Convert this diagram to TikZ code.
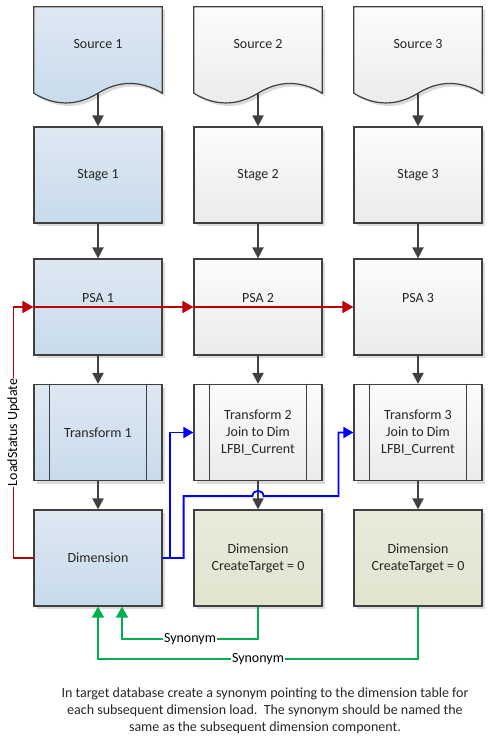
\documentclass[tikz,border=0pt]{standalone}
\usepackage{fontspec}
\setmainfont{Carlito}
\usetikzlibrary{arrows.meta,calc,shadows,backgrounds}

\definecolor{edge}{HTML}{404040}
\definecolor{blutop}{HTML}{DEE8F3}
\definecolor{blubot}{HTML}{C8DBEB}
\definecolor{grytop}{HTML}{FCFCFC}
\definecolor{grybot}{HTML}{EBEBEB}
\definecolor{grntop}{HTML}{E7EBDB}
\definecolor{grnbot}{HTML}{E0E5CF}
\definecolor{redl}{HTML}{C00000}
\definecolor{blul}{HTML}{0000FF}
\definecolor{grnl}{HTML}{00B050}

\tikzset{
	shad/.style={drop shadow={shadow xshift=3pt, shadow yshift=-3pt, fill=black!14, opacity=1}},
	box/.style={draw=edge, line width=1.2pt, minimum width=128pt, minimum height=96pt, align=center, inner sep=0pt, shad},
	srcbox/.style={minimum width=128pt, minimum height=86pt, inner sep=0pt, text depth=12pt},
	srcline/.style={draw=edge, line width=1.2pt, shad},
	blu/.style={top color=blutop, bottom color=blubot},
	gry/.style={top color=grytop, bottom color=grybot},
	grn/.style={top color=grntop, bottom color=grnbot},
	flow/.style={draw=edge, line width=1.8pt, -{Triangle[length=11pt,width=11pt]}},
	redarr/.style={draw=redl, line width=1.8pt, -{Triangle[length=11pt,width=12pt]}},
	bluarr/.style={draw=blul, line width=1.8pt, -{Triangle[length=10pt,width=11pt]}},
	grnarr/.style={draw=grnl, line width=1.8pt, -{Triangle[length=11pt,width=12pt]}},
	tag/.style={fill=white, inner sep=1pt, text=black}
}

\begin{document}
\begin{tikzpicture}[x=1pt, y=-1pt, font=\fontsize{14pt}{17pt}\selectfont, text=black!85]
	\useasboundingbox (0,0) rectangle (489,741);

	% sources
	\node[srcbox] (src1) at (98,50) {Source 1};
	\node[srcbox] (src2) at (258,50) {Source 2};
	\node[srcbox] (src3) at (418,50) {Source 3};
	\begin{scope}[on background layer]
		\foreach \n/\c in {src1/blu, src2/gry, src3/gry}
			\draw[srcline, \c] (\n.north west) -- (\n.north east) -- (\n.south east)
				.. controls ($(\n.south east)+(-21,-13)$) and ($(\n.south)+(21,-13)$) .. (\n.south)
				.. controls ($(\n.south)+(-21,13)$) and ($(\n.south west)+(21,13)$) .. (\n.south west) -- cycle;
	\end{scope}

	% boxes
	\node[box,blu] (stg1) at (98,175) {Stage 1};
	\node[box,gry] (stg2) at (258,175) {Stage 2};
	\node[box,gry] (stg3) at (418,175) {Stage 3};
	\node[box,blu,text depth=18pt] (psa1) at (98,307) {PSA 1};
	\node[box,gry,text depth=18pt] (psa2) at (258,307) {PSA 2};
	\node[box,gry,text depth=18pt] (psa3) at (418,307) {PSA 3};
	\node[box,blu] (tr1) at (98,432.5) {Transform 1};
	\node[box,gry] (tr2) at (258,432.5) {Transform 2\\Join to Dim\\LFBI\_Current};
	\node[box,gry] (tr3) at (418,432.5) {Transform 3\\Join to Dim\\LFBI\_Current};
	\node[box,blu] (dim1) at (98,558) {Dimension};
	\node[box,grn] (dim2) at (258,558) {Dimension\\CreateTarget = 0};
	\node[box,grn] (dim3) at (418,558) {Dimension\\CreateTarget = 0};
	\foreach \n in {tr1,tr2,tr3}
		\draw[edge, line width=1.2pt] ([xshift=16pt]\n.north west) -- ([xshift=16pt]\n.south west)
			([xshift=-16pt]\n.north east) -- ([xshift=-16pt]\n.south east);

	% flow down
	\foreach \i in {1,2,3} {
		\draw[flow] (src\i.south) -- (stg\i.north);
		\draw[flow] (stg\i.south) -- (psa\i.north);
		\draw[flow] (psa\i.south) -- (tr\i.north);
		\draw[flow] (tr\i.south) -- (dim\i.north);
	}

	% status update
	\draw[redarr] (dim1.west) -- ++(-20,0) |- node[pos=0.25, rotate=90, tag] {LoadStatus Update} (psa1.west);
	\draw[redarr] (psa1.west) -- (psa2.west);
	\draw[redarr] (psa2.west) -- (psa3.west);

	% joins
	\coordinate (jmp) at ($(tr2.south)+(0,15)$);
	\draw[bluarr] (dim1.east) -- ++(7,0) |- (tr2.west);
	\draw[bluarr] (dim1.east) -- ++(21,0) |- ($(jmp)+(-5.5,0)$)
		.. controls ($(jmp)+(-5.5,-7)$) and ($(jmp)+(5.5,-7)$) .. ($(jmp)+(5.5,0)$)
		-- ++(75,0) |- (tr3.west);

	% synonyms
	\draw[grnarr] (dim2.south) -- ++(0,32) -| node[pos=0.25, tag] {Synonym} ([xshift=24pt]dim1.south);
	\draw[grnarr] (dim3.south) -- ++(0,52) -| node[pos=0.25, tag] {Synonym} (dim1.south);

	\node[align=center, text=black!85] (note) at (265,711) {In target database create a synonym pointing to the dimension table for\\each subsequent dimension load.\ \ The synonym should be named the\\same as the subsequent dimension component.};
\end{tikzpicture}
\end{document}
